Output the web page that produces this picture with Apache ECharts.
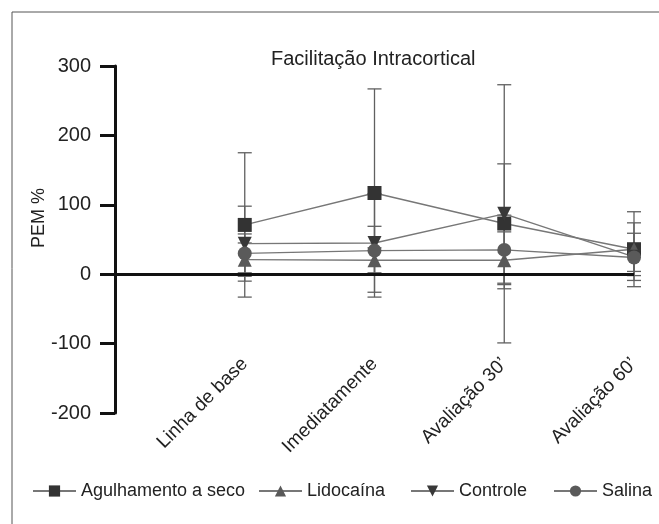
<!DOCTYPE html>
<html>
<head>
<meta charset="utf-8">
<script src="https://cdn.jsdelivr.net/npm/echarts@6/dist/echarts.min.js"></script>
<style>
  html, body { margin: 0; padding: 0; background: #fff; }
  #chart { width: 659px; height: 524px; }
</style>
</head>
<body>
<div id="chart"></div>
<script>
// data
var categories = ['Linha de base', 'Imediatamente', 'Avaliação 30’', 'Avaliação 60’'];
var yTicks = [-200, -100, 0, 100, 200, 300];

var agulhamento = [71, 117, 73, 36];
var agulhamentoErr = [104, 150, 86, 54];
var lidocaina = [21, 20, 20, 36];
var lidocainaErr = [24, 18, 41, 38];
var controle = [44, 45, 87, 25];
var controleErr = [54, 71, 186, 34];
var salina = [30, 34, 35, 24];
var salinaErr = [28, 35, 50, 20];

var font = 'Liberation Sans';

function points(vals) {
  return vals.map(function (v, i) { return [i, v]; });
}
function bars(vals, errs) {
  return vals.map(function (v, i) { return [i, v - errs[i], v + errs[i]]; });
}

function renderErr(params, api) {
  var x = api.value(0);
  var top = api.coord([x, api.value(2)]);
  var bot = api.coord([x, api.value(1)]);
  var hw = 7;
  var st = { stroke: '#606060', lineWidth: 1.3 };
  return {
    type: 'group',
    children: [
      { type: 'line', shape: { x1: top[0], y1: top[1], x2: bot[0], y2: bot[1] }, style: st },
      { type: 'line', shape: { x1: top[0] - hw, y1: top[1], x2: top[0] + hw, y2: top[1] }, style: st },
      { type: 'line', shape: { x1: bot[0] - hw, y1: bot[1], x2: bot[0] + hw, y2: bot[1] }, style: st }
    ]
  };
}

function errSeries(vals, errs) {
  return {
    type: 'custom',
    renderItem: renderErr,
    encode: { x: 0, y: [1, 2] },
    data: bars(vals, errs),
    z: 1,
    silent: true
  };
}

function lineSeries(name, vals, symbol, size, color) {
  return {
    name: name,
    type: 'line',
    data: points(vals),
    symbol: symbol,
    symbolSize: size,
    itemStyle: { color: color },
    lineStyle: { color: '#777', width: 1.4 },
    z: 3
  };
}

function legendAt(name, left) {
  return {
    data: [name],
    left: left,
    top: 477,
    itemWidth: 43,
    itemHeight: 14,
    textStyle: { fontFamily: font, fontSize: 18, color: '#222' }
  };
}

var chart = echarts.init(document.getElementById('chart'));

var option = {
  animation: false,
  title: {
    text: 'Facilitação Intracortical',
    left: 266,
    top: 44,
    textStyle: { fontFamily: font, fontSize: 20, fontWeight: 'normal', color: '#222' }
  },
  legend: [
    legendAt('Agulhamento a seco', 27),
    legendAt('Lidocaína', 253),
    legendAt('Controle', 405),
    legendAt('Salina', 548)
  ],
  graphic: [
    {
      type: 'rect',
      shape: { x: 12, y: 12, width: 700, height: 600 },
      style: { fill: 'none', stroke: '#555', lineWidth: 1 },
      silent: true
    },
    {
      type: 'text',
      x: 39,
      y: 218,
      rotation: Math.PI / 2,
      style: {
        text: 'PEM %',
        fontFamily: font,
        fontSize: 18,
        fill: '#222',
        textAlign: 'center',
        textVerticalAlign: 'middle'
      }
    }
  ],
  grid: { left: 115, right: 25, top: 66, bottom: 111 },
  xAxis: {
    type: 'value',
    min: -1,
    max: 3,
    interval: 1,
    axisLine: { show: false },
    axisTick: { show: false },
    splitLine: { show: false },
    axisLabel: {
      rotate: 45,
      margin: -52,
      fontFamily: font,
      fontSize: 19,
      color: '#222',
      formatter: function (v) { return categories[v] || ''; }
    }
  },
  yAxis: {
    type: 'value',
    min: yTicks[0],
    max: yTicks[yTicks.length - 1],
    interval: 100,
    axisLine: { show: true, onZero: false, lineStyle: { color: '#111', width: 3 } },
    axisTick: { show: true, length: 15, lineStyle: { color: '#111', width: 3 } },
    splitLine: { show: false },
    axisLabel: { margin: 24, fontFamily: font, fontSize: 20, color: '#222' }
  },
  series: [
    errSeries(agulhamento, agulhamentoErr),
    errSeries(lidocaina, lidocainaErr),
    errSeries(controle, controleErr),
    errSeries(salina, salinaErr),
    lineSeries('Agulhamento a seco', agulhamento, 'rect', 14, '#333'),
    lineSeries('Lidocaína', lidocaina, 'triangle', 14, '#595959'),
    lineSeries('Controle', controle, 'path://M0,0 L10,0 L5,9 Z', 14, '#383838'),
    lineSeries('Salina', salina, 'circle', 14, '#5a5a5a'),
    {
      type: 'line',
      data: [],
      silent: true,
      markLine: {
        symbol: 'none',
        silent: true,
        label: { show: false },
        lineStyle: { color: '#111', width: 3, type: 'solid' },
        data: [{ yAxis: 0 }]
      },
      z: 2
    }
  ]
};

option && chart.setOption(option);
</script>
</body>
</html>
